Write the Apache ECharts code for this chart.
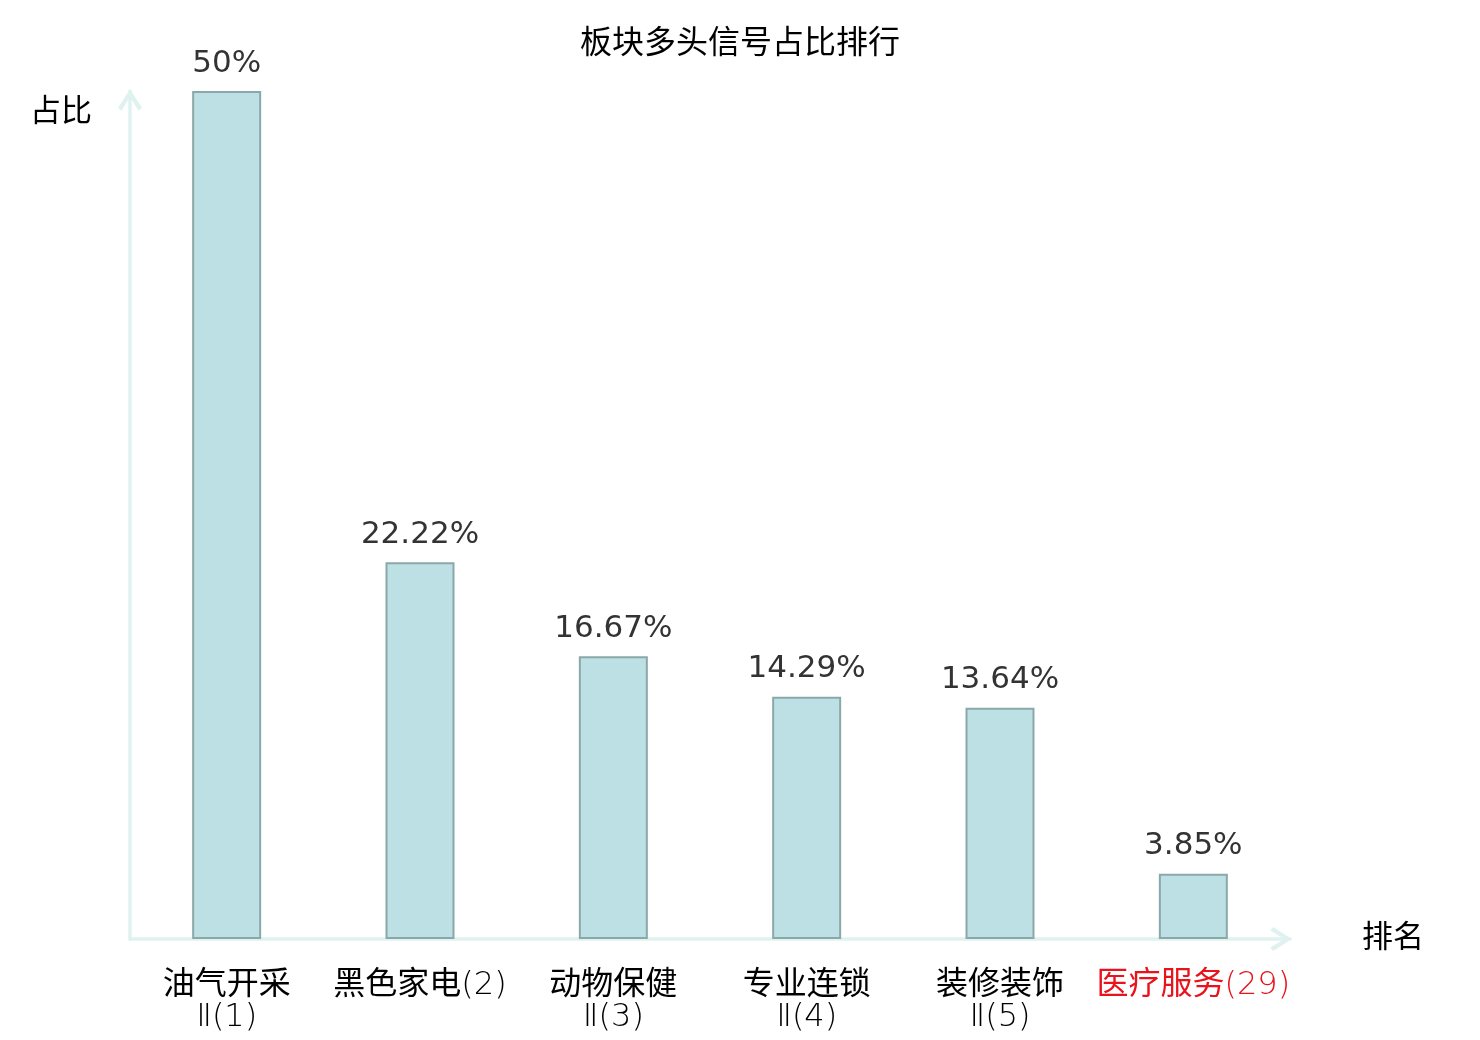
<!DOCTYPE html>
<html>
<head>
<meta charset="utf-8">
<title>板块多头信号占比排行</title>
<style>
  html, body { margin: 0; padding: 0; background: #fff; }
  #container { width: 1480px; height: 1040px; }
</style>
</head>
<body>
<div id="container"></div>
<script src="https://cdn.jsdelivr.net/npm/echarts@6/dist/echarts.min.js"></script>
<script>
    var categories = ['油气开采', '黑色家电', '动物保健', '专业连锁', '装修装饰', '医疗服务'];
    var suffixes = ['Ⅱ', '', 'Ⅱ', 'Ⅱ', 'Ⅱ', ''];
    var ranks = [1, 2, 3, 4, 5, 29];
    var values = [50, 22.22, 16.67, 14.29, 13.64, 3.85];
    var highlight = '医疗服务';

    var axisColor = '#dff2ef';
    var font = 'DejaVu Sans, Noto Sans CJK SC, sans-serif';
    // open chevron, tip at the top
    var chevron = 'path://M12,0 L24,18.5 L20.5,21.5 L12,7.5 L3.5,21.5 L0,18.5 Z';

    var labels = categories.map(function (c, i) {
        return c + suffixes[i] + '(' + ranks[i] + ')';
    });

    var myChart = echarts.init(document.getElementById('container'));
    var option = {
        backgroundColor: '#fff',
        textStyle: { fontFamily: font },
        title: {
            text: '板块多头信号占比排行',
            left: 'center',
            top: 24,
            textStyle: { color: '#000', fontSize: 32, fontWeight: 'normal', fontFamily: font }
        },
        grid: { left: 130, right: 190, top: 91, bottom: 101 },
        xAxis: {
            type: 'category',
            data: labels,
            name: '排名',
            nameGap: 72,
            nameTextStyle: { color: '#000', fontSize: 31, fontFamily: font, padding: [18, 0, 0, 0] },
            axisLine: {
                lineStyle: { color: axisColor, width: 3.5 },
                symbol: ['none', chevron],
                symbolSize: [24, 22],
                symbolOffset: [0, -9]
            },
            axisTick: { show: false },
            axisLabel: {
                interval: 0,
                margin: 31,
                fontFamily: font,
                formatter: function (v, i) {
                    var red = categories[i] === highlight;
                    var head = '{' + (red ? 'rn' : 'n') + '|' + categories[i] + '}';
                    var tail = '{' + (red ? 'rl' : 'l') + '|' + suffixes[i] + '(' + ranks[i] + ')}';
                    return suffixes[i] ? head + '\n' + tail : head + tail;
                },
                rich: {
                    n: { fontSize: 32, lineHeight: 32, color: '#000', fontFamily: font },
                    l: { fontSize: 32, lineHeight: 32, color: '#000', fontWeight: 200, fontFamily: 'DejaVu Sans' },
                    rn: { fontSize: 32, lineHeight: 32, color: '#e8131b', fontFamily: font },
                    rl: { fontSize: 32, lineHeight: 32, color: '#e8131b', fontWeight: 200, fontFamily: 'DejaVu Sans' }
                }
            }
        },
        yAxis: {
            type: 'value',
            min: 0,
            max: 50,
            name: '占比',
            nameGap: -22,
            nameTextStyle: {
                color: '#000', fontSize: 31, fontFamily: font,
                align: 'right', verticalAlign: 'middle', padding: [0, 38, 0, 0]
            },
            axisLine: {
                show: true,
                lineStyle: { color: axisColor, width: 3.5 },
                symbol: ['none', chevron],
                symbolSize: [24, 22],
                symbolOffset: [0, -9]
            },
            axisTick: { show: false },
            axisLabel: { show: false },
            splitLine: { show: false }
        },
        series: [{
            type: 'bar',
            data: values,
            barWidth: 69,
            itemStyle: { color: '#bce0e3', borderColor: '#8aa8a9', borderWidth: 2 },
            label: {
                show: true,
                position: 'top',
                distance: 12,
                fontSize: 31,
                fontFamily: font,
                color: '#333',
                formatter: function (p) { return p.value + '%'; }
            }
        }]
    };
    myChart.setOption(option);
</script>
</body>
</html>
